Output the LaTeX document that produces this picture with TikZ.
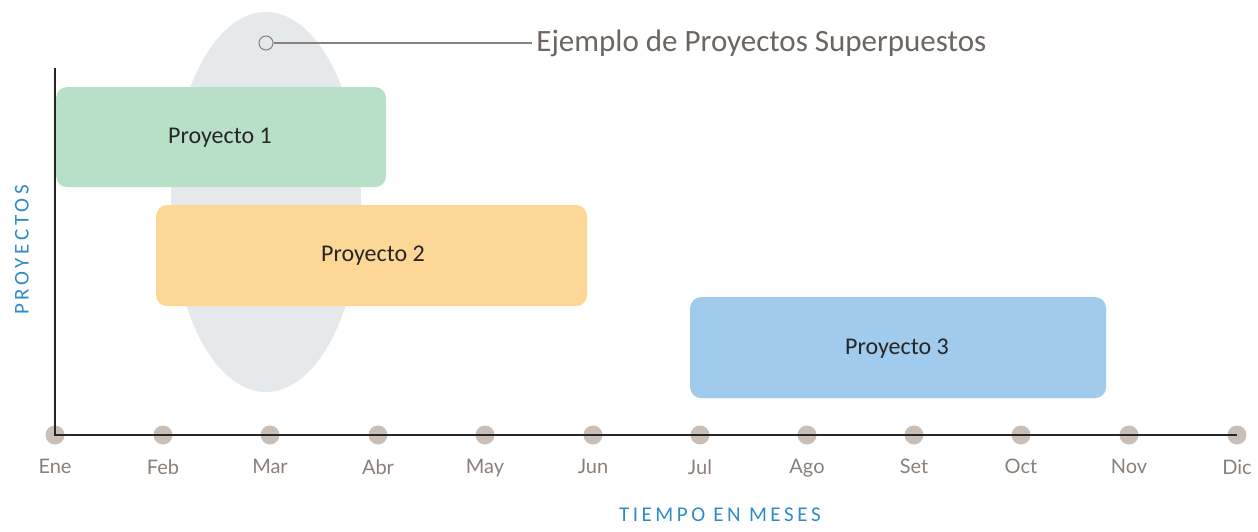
\documentclass[tikz,border=0pt]{standalone}
\usepackage{fontspec}
\setmainfont{Carlito}
\newfontfamily\monthfont{Lato}
\usetikzlibrary{
    arrows.meta,
    positioning
}
\definecolor{barGreen}{HTML}{B8DFC8}
\definecolor{barYellow}{HTML}{FDD795}
\definecolor{barBlue}{HTML}{A0CBEC}
\definecolor{shadeGray}{HTML}{E5E9EC}
\definecolor{dotGray}{HTML}{C9BFB6}
\definecolor{monthText}{HTML}{8A8079}
\definecolor{axisBlue}{HTML}{2E8BC8}
\definecolor{noteText}{HTML}{6E6560}

\tikzset{
    project/.style={rounded corners=11pt, inner sep=0pt, anchor=north west,
                    font=\fontsize{24}{28}\selectfont, text=black!85},
    monthdot/.style={circle, fill=dotGray, minimum size=19pt, inner sep=0pt},
    monthlabel/.style={below=20pt, font=\monthfont\fontsize{20}{24}\selectfont, text=monthText},
    axislabel/.style={font=\fontsize{21}{25}\selectfont, text=axisBlue}
}

\begin{document}
\begin{tikzpicture} [x=1pt, y=-1pt, line width=2.2pt]
    \useasboundingbox (0,0) rectangle (1258,531);

    % overlap highlight
    \fill[shadeGray] (266,202) ellipse [x radius=95, y radius=190];

    % projects
    \node[project, fill=barGreen,  minimum width=330pt, minimum height=100pt] (p1) at (55,86)  {};
    \node[project, fill=barYellow, minimum width=431pt, minimum height=101pt] (p2) at (155,204) {};
    \node[project, fill=barBlue,   minimum width=416pt, minimum height=101pt] (p3) at (689,296) {};
    \node[project, anchor=center] at (220,138) {Proyecto 1};
    \node[project, anchor=center] at (373,256) {Proyecto 2};
    \node[project, anchor=center] at (897,349) {Proyecto 3};

    % months
    \node[monthdot] (ene) at (55,435)   {};
    \node[monthdot] (feb) at (163,435)  {};
    \node[monthdot] (mar) at (270,435)  {};
    \node[monthdot] (abr) at (378,435)  {};
    \node[monthdot] (may) at (485,435)  {};
    \node[monthdot] (jun) at (593,435)  {};
    \node[monthdot] (jul) at (700,435)  {};
    \node[monthdot] (ago) at (807,435)  {};
    \node[monthdot] (set) at (914,435)  {};
    \node[monthdot] (oct) at (1021,435) {};
    \node[monthdot] (nov) at (1129,435) {};
    \node[monthdot] (dic) at (1237,435) {};

    \node[monthlabel] at (ene) {Ene};
    \node[monthlabel] at (feb) {Feb};
    \node[monthlabel] at (mar) {Mar};
    \node[monthlabel] at (abr) {Abr};
    \node[monthlabel] at (may) {May};
    \node[monthlabel] at (jun) {Jun};
    \node[monthlabel] at (jul) {Jul};
    \node[monthlabel] at (ago) {Ago};
    \node[monthlabel] at (set) {Set};
    \node[monthlabel] at (oct) {Oct};
    \node[monthlabel] at (nov) {Nov};
    \node[monthlabel] at (dic) {Dic};

    % axes
    \coordinate (top) at (55,68);
    \draw[black!85] (top) -- (ene.center) -- (dic.center);

    \node[axislabel, rotate=90] (ylab) at (22,250) {P\,R\,O\,Y\,E\,C\,T\,O\,S};
    \node[axislabel] (xlab) at (720,515) {T\,I\,E\,M\,P\,O\ \,E\,N\ \,M\,E\,S\,E\,S};

    % note
    \node[circle, draw=monthText, line width=1pt, minimum size=14pt, inner sep=0pt] (mark) at (266,43) {};
    \node[anchor=west, font=\fontsize{31}{36}\selectfont, text=noteText] (note) at (532,43)
        {Ejemplo de Proyectos Superpuestos};
    \draw[monthText, line width=1.2pt] (mark) -- (note);
\end{tikzpicture}
\end{document}
